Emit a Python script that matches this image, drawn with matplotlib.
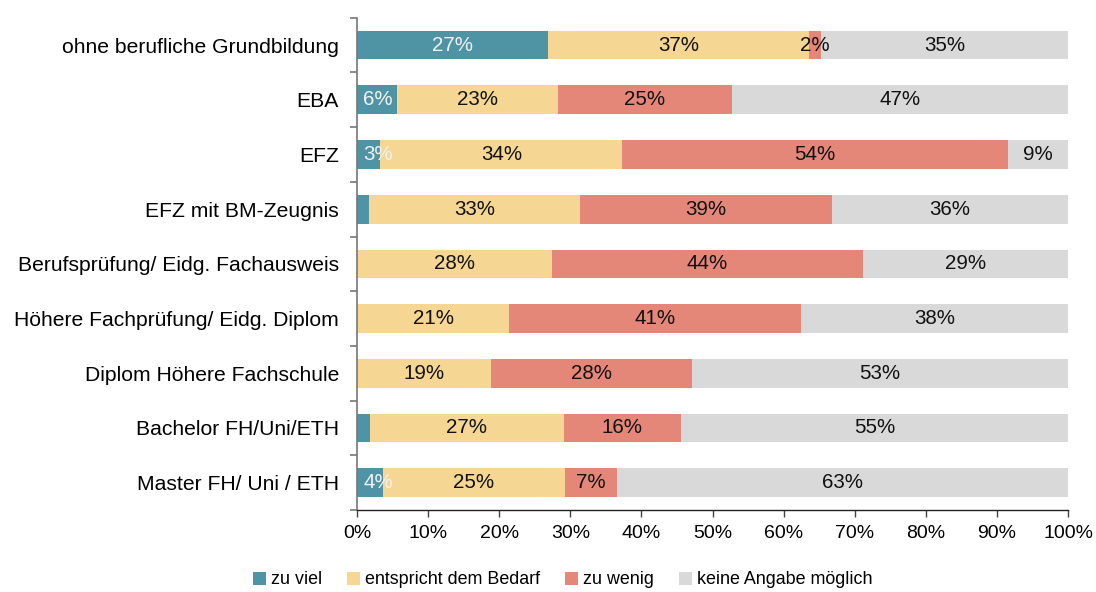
import numpy as np
import matplotlib
matplotlib.use("Agg")
import matplotlib.pyplot as plt
from matplotlib.patches import Patch

plt.rcParams["font.family"] = ["Liberation Sans", "DejaVu Sans"]

categories = [
    "ohne berufliche Grundbildung",
    "EBA",
    "EFZ",
    "EFZ mit BM-Zeugnis",
    "Berufsprüfung/ Eidg. Fachausweis",
    "Höhere Fachprüfung/ Eidg. Diplom",
    "Diplom Höhere Fachschule",
    "Bachelor FH/Uni/ETH",
    "Master FH/ Uni / ETH",
]
series_names = ["zu viel", "entspricht dem Bedarf", "zu wenig", "keine Angabe möglich"]

# segment widths (in %)
zu_viel = [26.9, 5.7, 3.3, 1.7, 0.0, 0.0, 0.0, 1.8, 3.7]
bedarf = [36.6, 22.6, 34.0, 29.7, 27.4, 21.4, 18.9, 27.3, 25.5]
zu_wenig = [1.8, 24.4, 54.2, 35.4, 43.7, 41.1, 28.2, 16.4, 7.4]
keine = [34.7, 47.3, 8.5, 33.2, 28.9, 37.5, 52.9, 54.5, 63.4]

# printed labels
lab_zu_viel = ["27%", "6%", "3%", "", "", "", "", "", "4%"]
lab_bedarf = ["37%", "23%", "34%", "33%", "28%", "21%", "19%", "27%", "25%"]
lab_zu_wenig = ["2%", "25%", "54%", "39%", "44%", "41%", "28%", "16%", "7%"]
lab_keine = ["35%", "47%", "9%", "36%", "29%", "38%", "53%", "55%", "63%"]

colors = ["#4E94A5", "#F5D692", "#E48778", "#D9D9D9"]
text_colors = ["#F2F2F2", "#111111", "#111111", "#111111"]

fig = plt.figure(figsize=(10.96, 5.92), dpi=100)
ax = fig.add_axes([0.3257, 0.1385, 0.6488, 0.8315])

y = np.arange(len(categories))
left = np.zeros(len(categories))
for vals, labs, c, tc, name in zip([zu_viel, bedarf, zu_wenig, keine],
                                   [lab_zu_viel, lab_bedarf, lab_zu_wenig, lab_keine],
                                   colors, text_colors, series_names):
    vals = np.array(vals)
    ax.barh(y, vals, left=left, height=0.525, color=c, label=name, edgecolor="none")
    for i, (v, lab) in enumerate(zip(vals, labs)):
        if lab:
            xc = max(left[i] + v / 2, 3.0)
            ax.text(xc, y[i], lab, ha="center", va="center", fontsize=14.8, color=tc)
    left += vals

ax.set_xlim(0, 100)
ax.set_ylim(len(categories) - 0.5, -0.5)
ax.set_xticks(np.arange(0, 101, 10))
ax.set_xticklabels([f"{v}%" for v in range(0, 101, 10)], fontsize=14)
ax.set_yticks(y)
ax.set_yticklabels(categories, fontsize=15.2)
ax.tick_params(axis="y", which="major", length=0, pad=13)
ax.set_yticks(np.arange(-0.5, len(categories), 1), minor=True)
ax.tick_params(axis="y", which="minor", length=5, width=1.2, color="#777777", direction="out")
ax.tick_params(axis="x", length=5, width=1, color="#444444", direction="out", pad=6)

for s in ("top", "right"):
    ax.spines[s].set_visible(False)
ax.spines["left"].set_color("#777777")
ax.spines["left"].set_linewidth(1.2)
ax.spines["bottom"].set_color("#222222")
ax.spines["bottom"].set_linewidth(1.0)

handles = [Patch(facecolor=c, edgecolor="none") for c in colors]
fig.legend(handles, series_names, loc="center", bbox_to_anchor=(563 / 1096, 1 - 580 / 592),
           ncol=4, frameon=False, fontsize=12.9, handlelength=0.7, handleheight=0.7,
           handletextpad=0.3, columnspacing=1.4)

fig.savefig("out.png", dpi=100)
